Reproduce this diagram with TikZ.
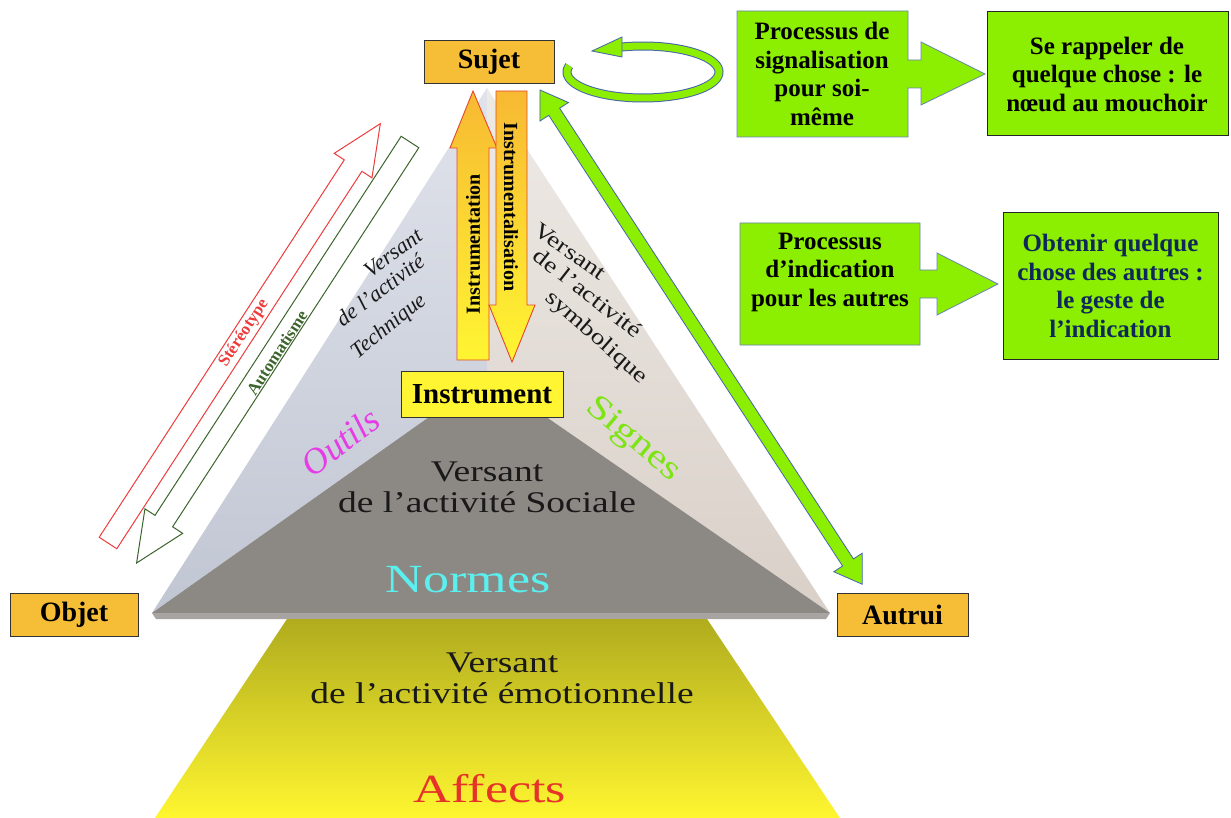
\documentclass[tikz,border=0pt]{standalone}
\usepackage{fontspec}
\setmainfont{Liberation Serif}
\newfontfamily\widefont[FakeStretch=1.25]{Liberation Serif}
\newfontfamily\vwidefont[FakeStretch=1.3]{Liberation Serif}
\definecolor{boxorange}{RGB}{246,190,54}
\definecolor{boxyellow}{RGB}{255,245,50}
\definecolor{lgreen}{RGB}{140,238,0}
\definecolor{edgeblue}{RGB}{70,100,170}
\definecolor{navytext}{RGB}{15,40,90}
\definecolor{redarrow}{RGB}{238,60,60}
\definecolor{greenarrow}{RGB}{60,100,45}
\definecolor{leftface}{RGB}{193,198,211}
\definecolor{leftfacetop}{RGB}{224,227,235}
\definecolor{rightface}{RGB}{217,208,200}
\definecolor{rightfacetop}{RGB}{238,234,230}
\definecolor{frontface}{RGB}{140,136,132}
\definecolor{rimgray}{RGB}{168,164,161}
\definecolor{olivetop}{RGB}{176,172,30}
\definecolor{yellowbot}{RGB}{255,246,48}
\definecolor{outilsc}{RGB}{230,60,230}
\definecolor{signesc}{RGB}{125,228,20}
\definecolor{normesc}{RGB}{90,240,240}
\definecolor{affectsc}{RGB}{230,50,40}
\definecolor{arrowred}{RGB}{232,70,42}
\definecolor{arroworange}{RGB}{247,185,50}
\definecolor{facetext}{RGB}{25,25,25}
\newcommand\myarrow[6]{% style, tail point, angle, length, shaft width, head length
  \begin{scope}[shift={#2},rotate=#3]
    \draw[#1] (0,{-#5/2}) -- ({#4-#6},{-#5/2}) -- ({#4-#6},{-(#5/2+12)}) -- (#4,0) -- ({#4-#6},{#5/2+12}) -- ({#4-#6},{#5/2}) -- (0,{#5/2}) -- cycle;
  \end{scope}}
\tikzset{
  corner/.style={draw=black!80, line width=1pt, fill=boxorange, font=\bfseries\fontsize{28}{30}\selectfont, minimum width=130pt, minimum height=43pt, inner sep=0pt},
  callout/.style={fill=lgreen, draw=edgeblue!80, line width=0.8pt},
  resultbox/.style={fill=lgreen, draw=black!85, line width=1pt},
  bigtext/.style={font=\bfseries\fontsize{25}{28.5}\selectfont, align=center, inner sep=0pt},
  facelabel/.style={font=\widefont\fontsize{30}{31}\selectfont, align=center, text=facetext, inner sep=0pt},
  techline/.style={font=\itshape\fontsize{22}{22}\selectfont, text=facetext, inner sep=0pt},
  symbline/.style={font=\widefont\fontsize{22}{22}\selectfont, text=facetext, inner sep=0pt},
  instrarrow/.style={top color=arroworange, bottom color=boxyellow, draw=arrowred, line width=0.9pt},
}
\begin{document}
\begin{tikzpicture}[x=1pt,y=-1pt]
\useasboundingbox (0,0) rectangle (1231,818);
\fill[white] (0,0) rectangle (1231,818);

% pyramid
\coordinate (apex) at (487,88);
\coordinate (front) at (487,376);
\coordinate (bl) at (152,613);
\coordinate (br) at (830,613);
\shade[top color=leftfacetop, bottom color=leftface] (apex) -- (bl) -- (front) -- cycle;
\shade[top color=rightfacetop, bottom color=rightface] (apex) -- (front) -- (br) -- cycle;
\fill[frontface] (front) -- (bl) -- (br) -- cycle;
\fill[rimgray] (bl) -- (br) -- (826,619) -- (156,619) -- cycle;

% emotional trapezoid
\shade[top color=olivetop, bottom color=yellowbot] (287,619) -- (707,619) -- (840,818) -- (155,818) -- cycle;

% Stereotype / Automatisme arrows
\myarrow{draw=redarrow, fill=white, line width=1pt}{(108,543)}{57}{500}{21}{50}
\myarrow{draw=greenarrow, fill=white, line width=1pt}{(410,142)}{237}{502}{21}{50}
\node[rotate=57, text=redarrow, font=\bfseries\fontsize{17}{17}\selectfont] (stereo) at (244,333) {Stéréotype};
\node[rotate=57, text=greenarrow, font=\bfseries\fontsize{17}{17}\selectfont] (automat) at (277,353) {Automatisme};

% vertical arrows
\path[instrarrow] (473,91) -- (497,148) -- (489,148) -- (489,360) -- (457,360) -- (457,148) -- (450,148) -- cycle;
\path[instrarrow] (496,91) -- (527,91) -- (527,305) -- (535,305) -- (512,362) -- (489,305) -- (496,305) -- cycle;
\node[rotate=90, font=\bfseries\fontsize{20}{20}\selectfont] (instrumentation) at (473,244) {Instrumentation};
\node[rotate=-90, font=\bfseries\fontsize{20}{20}\selectfont] (instrumentalisation) at (511,207) {Instrumentalisation};

% green double arrow Sujet <-> Autrui
\begin{scope}[shift={(540,90)},rotate=-56.9]
  \draw[fill=lgreen, draw=edgeblue, line width=0.8pt] (0,0) -- (26,-17) -- (26,-6.5) -- (564,-6.5) -- (564,-17) -- (590,0) -- (564,17) -- (564,6.5) -- (26,6.5) -- (26,17) -- cycle;
\end{scope}

% loop arrow
\draw[edgeblue, line width=9pt] plot[domain=166:467, samples=120] ({643+76*cos(\x)},{72-26*sin(\x)});
\draw[lgreen, line width=7pt] plot[domain=166:467, samples=120] ({643+76*cos(\x)},{72-26*sin(\x)});
\draw[fill=lgreen, draw=edgeblue, line width=0.8pt] (592,51) -- (622,37) -- (622,57) -- cycle;

% corner boxes
\node[corner] (sujet) at (489,62) {Sujet};
\node[corner, minimum width=128pt] (objet) at (74,614.5) {Objet};
\node[corner, minimum width=131pt] (autrui) at (902.5,614.5) {Autrui};
\node[corner, fill=boxyellow, minimum width=162pt, minimum height=46pt, font=\bfseries\fontsize{29}{30}\selectfont] (instrument) at (482,394) {Instrument};

% face texts: technique side
\node[techline, rotate=36] (tech1) at (393,253) {Versant};
\node[techline, rotate=37] (tech2) at (380,290) {de l’activité};
\node[techline, rotate=39] (tech3) at (389,327) {Technique};
% symbolic side
\node[symbline, rotate=-35] (symb1) at (570,251) {Versant};
\node[symbline, rotate=-38] (symb2) at (588,293) {de l’activité};
\node[symbline, rotate=-41] (symb3) at (596,338) {symbolique};

\node[font=\itshape\fontsize{36}{36}\selectfont, rotate=37, text=outilsc] (outils) at (340,442) {Outils};
\node[font=\widefont\fontsize{34}{34}\selectfont, rotate=-40, text=signesc] (signes) at (633,440) {Signes};
\node[facelabel] (sociale) at (487,487) {Versant\\de l’activité Sociale};
\node[font=\vwidefont\fontsize{40}{40}\selectfont, text=normesc] (normes) at (468,580) {Normes};
\node[facelabel] (emotion) at (502,678) {Versant\\de l’activité émotionnelle};
\node[font=\vwidefont\fontsize{40}{40}\selectfont, text=affectsc] (affects) at (490,789) {Affects};

% right side: callouts
\path[callout] (737,11) -- (908,11) -- (908,60) -- (921,60) -- (921,42) -- (985,74) -- (921,105) -- (921,88) -- (908,88) -- (908,137) -- (737,137) -- cycle;
\node[bigtext] (signal) at (822,74) {Processus de\\signalisation\\pour soi-\\même};
\path[resultbox] (987,12) rectangle (1228,136);
\node[bigtext] (rappel) at (1107,74) {Se rappeler de\\quelque chose : le\\nœud au mouchoir};

\path[callout] (740,223) -- (920,223) -- (920,270) -- (937,270) -- (937,253) -- (998,284) -- (937,315) -- (937,298) -- (920,298) -- (920,345) -- (740,345) -- cycle;
\node[bigtext] (indication) at (830,272) {Processus\\d’indication\\pour les autres};
\path[resultbox] (1003,213) rectangle (1218,359);
\node[bigtext, text=navytext] (obtenir) at (1110.5,286) {Obtenir quelque\\chose des autres :\\le geste de\\l’indication};
\end{tikzpicture}
\end{document}
